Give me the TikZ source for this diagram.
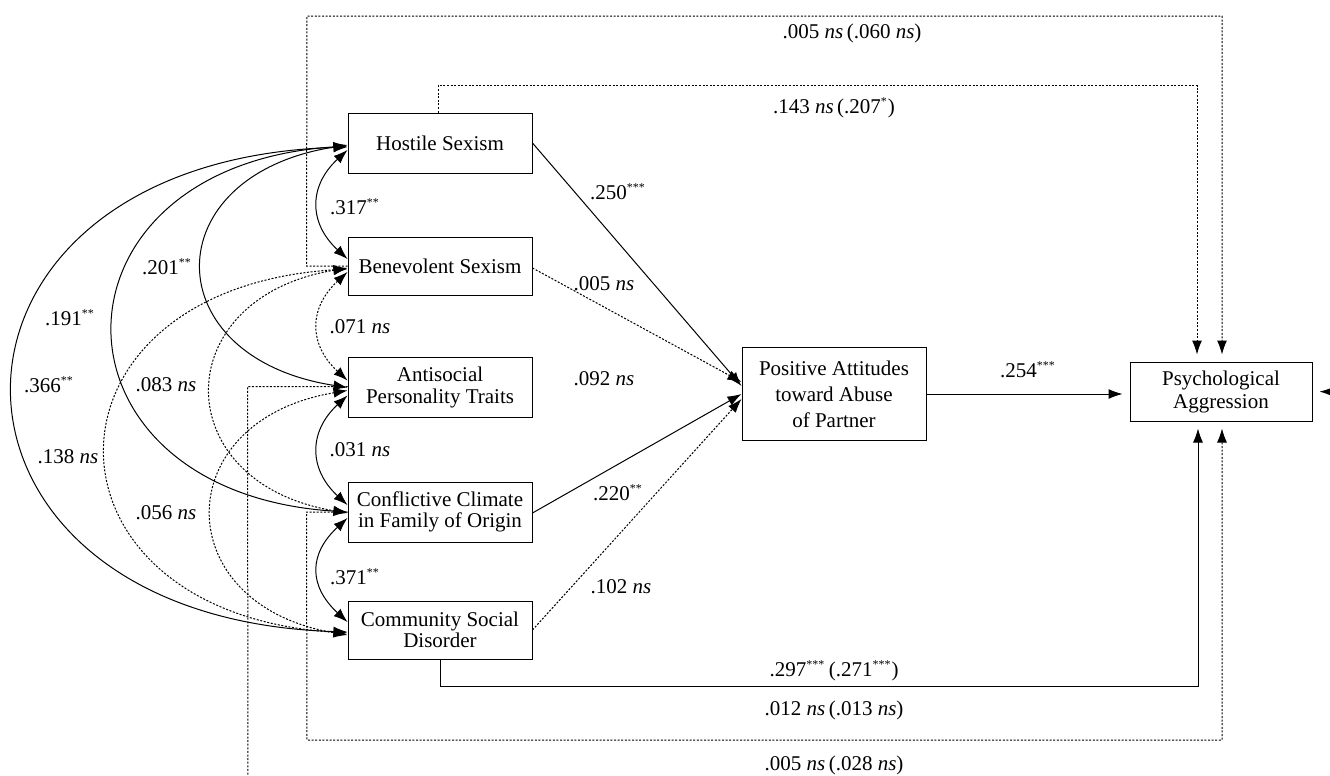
\documentclass[tikz,border=0pt]{standalone}
\usepackage{fontspec}
\setmainfont{Liberation Serif}
\usetikzlibrary{arrows.meta,calc}
\newcommand\sig[1]{\textsuperscript{\fontsize{6}{6}\selectfont#1}}
\newcommand\nsi{\textit{ns}}
\begin{document}
\begin{tikzpicture}[x=0.5pt,y=-0.5pt,
  >={Latex[length=7pt,width=5pt]},
  box/.style={draw, line width=0.5pt, inner sep=0pt, align=center,
    minimum width=92pt, minimum height=30pt, font=\fontsize{10.5}{10.8}\selectfont},
  lab/.style={inner sep=0pt, font=\fontsize{10.5}{12}\selectfont},
  ln/.style={line width=0.5pt},
  dl/.style={line width=0.5pt, dash pattern=on 1pt off 0.8pt},
  psyarr/.style={shorten >=3.5pt},
]
\useasboundingbox (0,0) rectangle (1330,776);

% boxes
\node[box] (hs)  at (440,143) {Hostile Sexism};
\node[box, minimum height=29pt] (bs)  at (440,266) {Benevolent Sexism};
\node[box] (ap)  at (440,387.5) {Antisocial\\Personality Traits};
\node[box] (cc)  at (440,512) {Conflictive Climate\\in Family of Origin};
\node[box, minimum height=29pt] (csd) at (440,630) {Community Social\\Disorder};
\node[box, minimum height=46.5pt, font=\fontsize{10.5}{13}\selectfont] (pa) at (834,394) {Positive Attitudes\\toward Abuse\\of Partner};
\node[box, minimum width=91pt, minimum height=29.5pt, font=\fontsize{10.5}{11.5}\selectfont] (psy) at (1221,391.5) {Psychological\\Aggression};

% routing points at Psychological Aggression
\coordinate (pT1) at ($(psy.north)+(-24,0)$);
\coordinate (pT2) at ($(psy.north)+(1,0)$);
\coordinate (pB1) at ($(psy.south)+(-23,0)$);
\coordinate (pB2) at ($(psy.south)+(1,0)$);

% paths to Positive Attitudes
\draw[ln,->] (hs.east) -- ($(pa.west)+(0,-8)$);
\draw[dl,->] ($(bs.east)+(0,2)$) -- ($(pa.west)+(0,-12)$);
\draw[ln,->] ($(cc.east)+(0,1)$) -- ($(pa.west)+(0,0)$);
\draw[dl,->] (csd.east) -- ($(pa.west)+(0,5)$);
\draw[ln,->,psyarr] (pa.east) -- (pa.east -| psy.west);
\draw[ln,->,psyarr] (1345,392) -- (psy.east);

% direct paths to Psychological Aggression
\draw[dl,->,psyarr] ($(hs.north)+(-2,0)$) -- ++(0,-27) -| (pT1);
\draw[dl,->,psyarr] (bs.west) -- ++(-41,0) -- (307,16) -| (pT2);
\draw[ln,->,psyarr] (csd.south) -- ++(0,27) -| (pB1);
\draw[dl,->,psyarr] (cc.west) -- ++(-41,0) -- (307,740) -| (pB2);
\draw[dl] ($(ap.west)+(0,-1)$) -- ++(-100,0) -- (248,790);

% correlations: adjacent
\draw[ln,<->] ($(hs.west)+(0,7)$) .. controls +(-39,36) and +(-39,-36) .. ($(bs.west)+(0,-7)$);
\draw[dl,<->] ($(bs.west)+(0,6)$) .. controls +(-39,36) and +(-39,-36) .. ($(ap.west)+(0,-7)$);
\draw[ln,<->] ($(ap.west)+(0,8)$) .. controls +(-39,36) and +(-39,-36) .. ($(cc.west)+(0,-7)$);
\draw[ln,<->] ($(cc.west)+(0,6)$) .. controls +(-39,36) and +(-39,-36) .. ($(csd.west)+(0,-8)$);
% correlations: wider
\draw[ln,<->] ($(hs.west)+(0,2)$) .. controls +(-193,30) and +(-193,-30) .. (ap.west);
\draw[ln,<->] ($(hs.west)+(0,3)$) .. controls +(-311,20) and +(-311,-20) .. (cc.west);
\draw[ln,<->] ($(hs.west)+(0,4)$) .. controls +(-445,14) and +(-445,-14) .. ($(csd.west)+(0,2)$);
\draw[dl,<->] ($(bs.west)+(0,2)$) .. controls +(-181,30) and +(-181,-30) .. ($(cc.west)+(0,1)$);
\draw[dl,<->] ($(bs.west)+(0,3)$) .. controls +(-321,20) and +(-321,-20) .. ($(csd.west)+(0,3)$);
\draw[dl,<->] ($(ap.west)+(0,3)$) .. controls +(-180,30) and +(-180,-30) .. ($(csd.west)+(0,5)$);

% coefficient labels
\node[lab] (k1) at (618,192) {.250\sig{***}};
\node[lab] (k2) at (604,284) {.005 \nsi};
\node[lab] (k3) at (604,379) {.092 \nsi};
\node[lab] (k4) at (618,493) {.220\sig{**}};
\node[lab] (k5) at (621,587) {.102 \nsi};
\node[lab] (k6) at (1028,370) {.254\sig{***}};
\node[lab] (k7) at (852,33) {.005 \nsi\,(.060 \nsi)};
\node[lab] (k8) at (834,108) {.143 \nsi\,(.207\sig{*})};
\node[lab] (k9) at (834,671) {.297\sig{***}\,(.271\sig{***})};
\node[lab] (k10) at (834,710) {.012 \nsi\,(.013 \nsi)};
\node[lab] (k11) at (834,765) {.005 \nsi\,(.028 \nsi)};

\node[lab] (r1) at (355,207) {.317\sig{**}};
\node[lab] (r2) at (360,327) {.071 \nsi};
\node[lab] (r3) at (360,450) {.031 \nsi};
\node[lab] (r4) at (355,577) {.371\sig{**}};
\node[lab] (r5) at (167,267) {.201\sig{**}};
\node[lab] (r6) at (70,318) {.191\sig{**}};
\node[lab] (r7) at (49,385) {.366\sig{**}};
\node[lab] (r8) at (166,385) {.083 \nsi};
\node[lab] (r9) at (68,457) {.138 \nsi};
\node[lab] (r10) at (166,513) {.056 \nsi};
\end{tikzpicture}
\end{document}
